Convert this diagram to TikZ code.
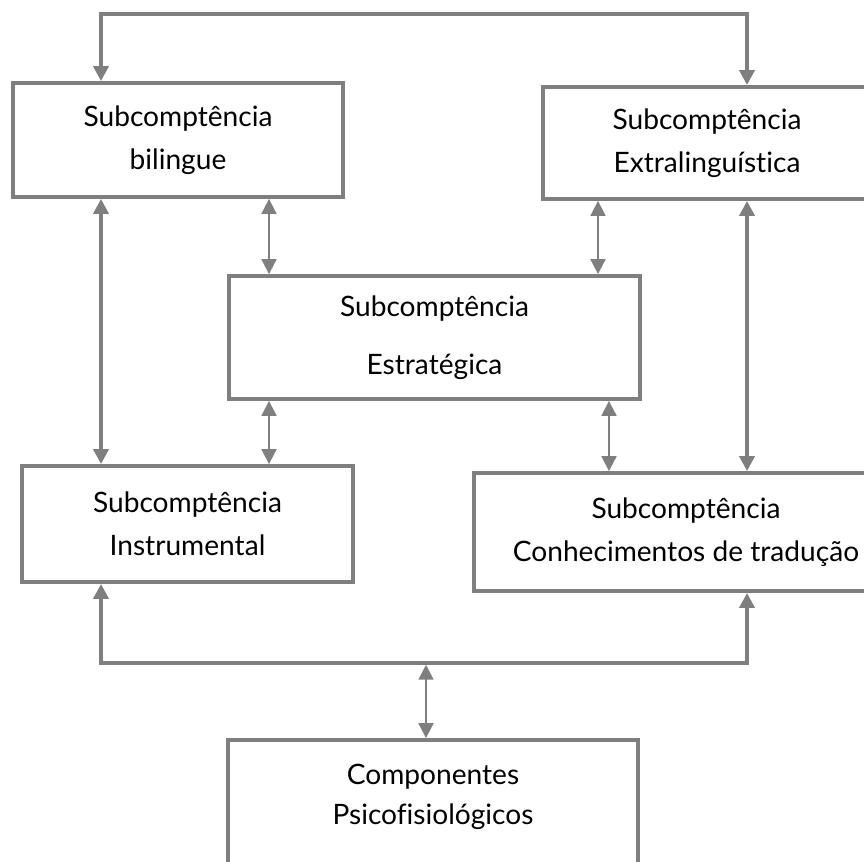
\documentclass[tikz,border=0pt]{standalone}
\usepackage{fontspec}
\setmainfont{Lato}[Ligatures={NoCommon}]
\usetikzlibrary{arrows.meta, calc}
\definecolor{LineGray}{HTML}{7F7F7F}

\begin{document}
\begin{tikzpicture}[x=0.02cm, y=-0.02cm,
    box/.style={draw=LineGray, line width=2.2pt, fill=white, inner sep=0pt, align=center,
                font=\fontsize{16}{24.5}\selectfont},
    boxtext/.style={align=center, font=\fontsize{16}{22.5}\selectfont},
    link/.style={draw=LineGray, line width=2.2pt,
                 {Triangle[length=8.5pt, width=8.5pt]}-{Triangle[length=8.5pt, width=8.5pt]}},
    thinlink/.style={draw=LineGray, line width=1.1pt,
                 {Triangle[length=8.5pt, width=8.5pt]}-{Triangle[length=8.5pt, width=8.5pt]}}
]
\useasboundingbox (0,0) rectangle (864,861);
\clip (0,0) rectangle (864,861);

% === Columns of the connectors ===
\coordinate (colL) at (101,0);
\coordinate (colR) at (747,0);
\coordinate (colA) at (269,0);
\coordinate (colB) at (598,0);
\coordinate (colC) at (609,0);
\coordinate (ridge) at (424,14);
\coordinate (hub) at (426,663);

% === Boxes ===
\node[box, minimum width=6.6cm, minimum height=2.28cm] (bil) at (178,140) {Subcomptência\\bilingue};
\node[box, minimum width=6.56cm, minimum height=2.24cm] (ext) at (707,143) {Subcomptência\\Extralinguística};
\node[box, minimum width=8.22cm, minimum height=2.46cm, font=\fontsize{16}{33}\selectfont] (est) at (434.5,337.5) {Subcomptência\\Estratégica};
\node[box, minimum width=6.62cm, minimum height=2.32cm] (ins) at (187.5,524) {Subcomptência\\Instrumental};
\node[box, minimum width=8.48cm, minimum height=2.36cm] (con) at (686,532) {Subcomptência\\Conhecimentos de tradução};
\node[box, minimum width=8.2cm, minimum height=3cm] (psi) at (433,815) {};
\node[boxtext] (psitxt) at (433,797) {Componentes\\Psicofisiológicos};

% === Outer brackets ===
\draw[link] (bil.north -| colL) |- (ridge) -| (ext.north -| colR);
\draw[link] (ins.south -| colL) |- (hub) -| (con.south -| colR);

% === Vertical links ===
\draw[link] (bil.south -| colL) -- (ins.north -| colL);
\draw[link] (ext.south -| colR) -- (con.north -| colR);
\draw[thinlink] (bil.south -| colA) -- (est.north -| colA);
\draw[thinlink] (ext.south -| colB) -- (est.north -| colB);
\draw[thinlink] (est.south -| colA) -- (ins.north -| colA);
\draw[thinlink] (est.south -| colC) -- (con.north -| colC);
\draw[thinlink, shorten <=1pt] (hub) -- (psi.north -| hub);
\end{tikzpicture}
\end{document}
